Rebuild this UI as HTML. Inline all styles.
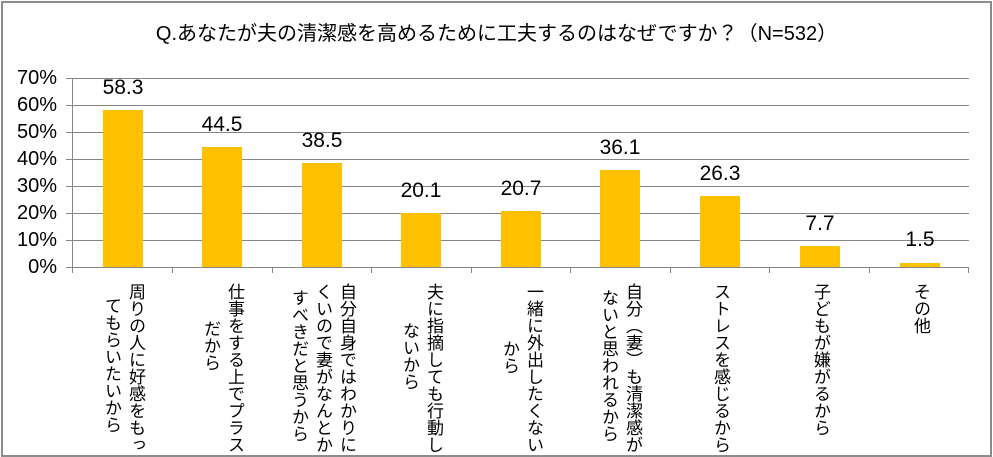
<!DOCTYPE html>
<html><head><meta charset="utf-8"><style>
body{margin:0;background:#fff;}
#c{position:relative;width:993px;height:457px;overflow:hidden;font-family:"Liberation Sans","Noto Sans CJK JP",sans-serif;color:#000;}
.b{position:absolute;left:1px;top:1px;width:987px;height:452px;border:2px solid #8c8c8c;}
.t{position:absolute;left:0;width:993px;top:17px;text-align:center;font-size:20px;white-space:nowrap;}
.g{position:absolute;left:66px;width:903px;height:1px;background:#868686;}
.yl{position:absolute;left:0;width:57px;text-align:right;font-size:20px;line-height:20px;}
.bar{position:absolute;width:40px;background:#FFC000;}
.v{position:absolute;width:80px;text-align:center;font-size:21px;line-height:22px;}
.tk{position:absolute;top:267px;width:1px;height:6px;background:#868686;}
.l{position:absolute;writing-mode:vertical-rl;font-size:17px;line-height:24px;width:24px;margin-left:-12px;white-space:nowrap;}
</style></head><body><div id="c">
<div class="b"></div>
<div class="t">Q.あなたが夫の清潔感を高めるために工夫するのはなぜですか？（N=532）</div>
<div class="g" style="top:78px"></div><div class="g" style="top:105px"></div><div class="g" style="top:132px"></div><div class="g" style="top:159px"></div><div class="g" style="top:186px"></div><div class="g" style="top:213px"></div><div class="g" style="top:240px"></div><div class="g" style="top:267px"></div>
<div style="position:absolute;left:72px;top:78px;width:1px;height:195px;background:#868686"></div>
<div class="yl" style="top:68px">70%</div><div class="yl" style="top:95px">60%</div><div class="yl" style="top:122px">50%</div><div class="yl" style="top:149px">40%</div><div class="yl" style="top:176px">30%</div><div class="yl" style="top:203px">20%</div><div class="yl" style="top:230px">10%</div><div class="yl" style="top:257px">0%</div>
<div class="tk" style="left:172px"></div><div class="tk" style="left:272px"></div><div class="tk" style="left:371px"></div><div class="tk" style="left:471px"></div><div class="tk" style="left:570px"></div><div class="tk" style="left:670px"></div><div class="tk" style="left:769px"></div><div class="tk" style="left:869px"></div><div class="tk" style="left:968px"></div>

<div class="bar" style="left:103px;top:110px;height:157px"></div><div class="v" style="left:83px;top:77px">58.3</div>
<div class="bar" style="left:202px;top:147px;height:120px"></div><div class="v" style="left:182px;top:114px">44.5</div>
<div class="bar" style="left:302px;top:163px;height:104px"></div><div class="v" style="left:282px;top:130px">38.5</div>
<div class="bar" style="left:401px;top:213px;height:54px"></div><div class="v" style="left:381px;top:180px">20.1</div>
<div class="bar" style="left:501px;top:211px;height:56px"></div><div class="v" style="left:481px;top:178px">20.7</div>
<div class="bar" style="left:600px;top:170px;height:97px"></div><div class="v" style="left:580px;top:137px">36.1</div>
<div class="bar" style="left:700px;top:196px;height:71px"></div><div class="v" style="left:680px;top:163px">26.3</div>
<div class="bar" style="left:800px;top:246px;height:21px"></div><div class="v" style="left:780px;top:213px">7.7</div>
<div class="bar" style="left:900px;top:263px;height:4px"></div><div class="v" style="left:880px;top:229px">1.5</div>

<div class="l" style="left:135px;top:283px">周りの人に好感をもっ</div>
<div class="l" style="left:111px;top:297px">てもらいたいから</div>
<div class="l" style="left:234px;top:283px">仕事をする上でプラス</div>
<div class="l" style="left:210px;top:320px">だから</div>
<div class="l" style="left:346px;top:283px">自分自身ではわかりに</div>
<div class="l" style="left:322px;top:283px">くいので妻がなんとか</div>
<div class="l" style="left:298px;top:289px">すべきだと思うから</div>
<div class="l" style="left:433px;top:283px">夫に指摘しても行動し</div>
<div class="l" style="left:409px;top:322px">ないから</div>
<div class="l" style="left:533px;top:283px">一緒に外出したくない</div>
<div class="l" style="left:509px;top:340px">から</div>
<div class="l" style="left:632px;top:283px">自分（妻）も清潔感が</div>
<div class="l" style="left:608px;top:289px">ないと思われるから</div>
<div class="l" style="left:720px;top:283px">ストレスを感じるから</div>
<div class="l" style="left:820px;top:283px">子どもが嫌がるから</div>
<div class="l" style="left:920px;top:283px">その他</div>
</div></body></html>
